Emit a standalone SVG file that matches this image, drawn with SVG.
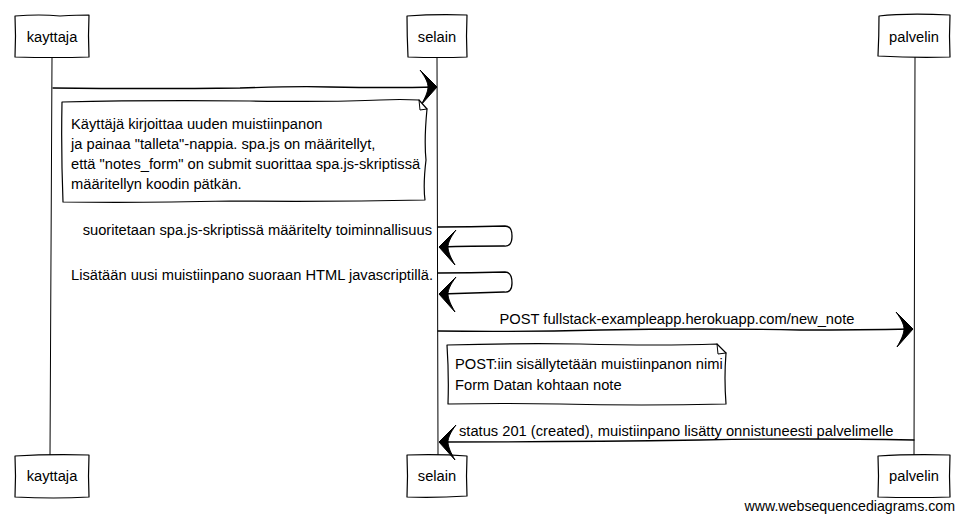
<svg xmlns="http://www.w3.org/2000/svg" width="964" height="521" viewBox="0 0 964 521">
<style>
.box{fill:#fff;stroke:#000;stroke-width:1.2;stroke-linejoin:round}
.ln{fill:none;stroke:#000;stroke-width:1.3;stroke-linecap:round}
.life{fill:none;stroke:#000;stroke-width:1}
text{font-family:"Liberation Sans",Arial,sans-serif;font-size:14.7px;fill:#000}
.c{text-anchor:middle}
.e{text-anchor:end}
.wm{font-size:14.2px}
</style>
<defs>
<path id="ah" d="M0,0 L-17,-17 C-11,-9 -9,-4 -9,0 C-9,5 -12,11 -16,18 Z" fill="#000" stroke="#000" stroke-width="1" stroke-linejoin="round"/>
</defs>
<rect width="964" height="521" fill="#fff"/>
<g id="lifelines">
<path class="life" d="M52,57 L50,455"/>
<path class="life" d="M437,57 L438,455"/>
<path class="life" d="M915,57 L914,455"/>
</g>
<g id="kayttaja-top">
<path class="box" d="M15,16 Q40,14 60,16 Q78,15 89,15 Q88,35 89,57 Q55,58 15,57 Q16,36 15,16 Z"/>
<text class="c" x="52" y="42">kayttaja</text>
</g>
<g id="selain-top">
<path class="box" d="M407,16 Q435,14 467,15 Q466,36 467,57 Q440,58 408,57 Q407,36 407,16 Z"/>
<text class="c" x="437" y="42">selain</text>
</g>
<g id="palvelin-top">
<path class="box" d="M879,16 Q905,13 950,15 Q949,36 950,57 Q915,58 878,56 Q879,36 879,16 Z"/>
<text class="c" x="914" y="42">palvelin</text>
</g>
<g id="kayttaja-bottom">
<path class="box" d="M15,456 Q50,454 89,455 Q88,476 89,497 Q55,499 15,497 Q16,476 15,456 Z"/>
<text class="c" x="52" y="481">kayttaja</text>
</g>
<g id="selain-bottom">
<path class="box" d="M407,455 Q440,454 467,456 Q466,476 467,496 Q435,498 407,497 Q408,476 407,455 Z"/>
<text class="c" x="437" y="481">selain</text>
</g>
<g id="palvelin-bottom">
<path class="box" d="M878,456 Q910,454 950,455 Q949,476 950,497 Q915,498 878,497 Q879,476 878,456 Z"/>
<text class="c" x="914" y="481">palvelin</text>
</g>
<g id="connectors">
<path class="ln" d="M53,88 Q150,89 240,88 Q300,86 330,87 Q390,88 436,87"/>
<use href="#ah" transform="translate(437,87)"/>
<path class="ln" d="M438,227 Q470,227 505,226 Q512,226 512,236 Q512,247 504,246 Q470,246 441,247"/>
<use href="#ah" transform="translate(439,247) scale(-1,1)"/>
<path class="ln" d="M438,273 Q470,273 505,272 Q512,272 512,283 Q512,293 504,292 Q470,293 441,294"/>
<use href="#ah" transform="translate(439,294) scale(-1,1)"/>
<path class="ln" d="M438,331 Q520,332 600,330 Q700,328 800,330 Q860,330 912,329"/>
<use href="#ah" transform="translate(913,329)"/>
<path class="ln" d="M914,440 Q800,438 700,440 Q560,442 441,442"/>
<use href="#ah" transform="translate(439,442) scale(-1,1)"/>
<text class="e" x="432" y="235">suoritetaan spa.js-skriptissä määritelty toiminnallisuus</text>
<text class="e" x="433" y="280">Lisätään uusi muistiinpano suoraan HTML javascriptillä.</text>
<text class="c" x="677" y="324">POST fullstack-exampleapp.herokuapp.com/new_note</text>
<text x="459" y="436">status 201 (created), muistiinpano lisätty onnistuneesti palvelimelle</text>
</g>
<g id="note1">
<path class="box" d="M62,102 Q150,100 250,101 Q340,102 380,100 Q400,99 419,100 L427,109 Q424,140 426,160 Q423,185 425,200 Q330,202 230,201 Q140,203 63,202 Q61,150 62,102 Z"/>
<path class="ln" d="M419,100 L420,110 L427,109" style="stroke-width:1"/>
<text x="71" y="129">Käyttäjä kirjoittaa uuden muistiinpanon</text>
<text x="71" y="149">ja painaa "talleta"-nappia. spa.js on määritellyt,</text>
<text x="71" y="169">että "notes_form" on submit suorittaa spa.js-skriptissä</text>
<text x="71" y="189">määritellyn koodin pätkän.</text>
</g>
<g id="note2">
<path class="box" d="M447,345 Q520,343 580,344 Q660,346 717,344 L726,353 Q724,378 726,404 Q640,406 560,404 Q500,403 448,404 Q449,375 447,345 Z"/>
<path class="ln" d="M717,344 L718,354 L726,353" style="stroke-width:1"/>
<text x="455" y="369">POST:iin sisällytetään muistiinpanon nimi</text>
<text x="455" y="390">Form Datan kohtaan note</text>
</g>
<text class="e wm" x="955" y="511">www.websequencediagrams.com</text>
</svg>
